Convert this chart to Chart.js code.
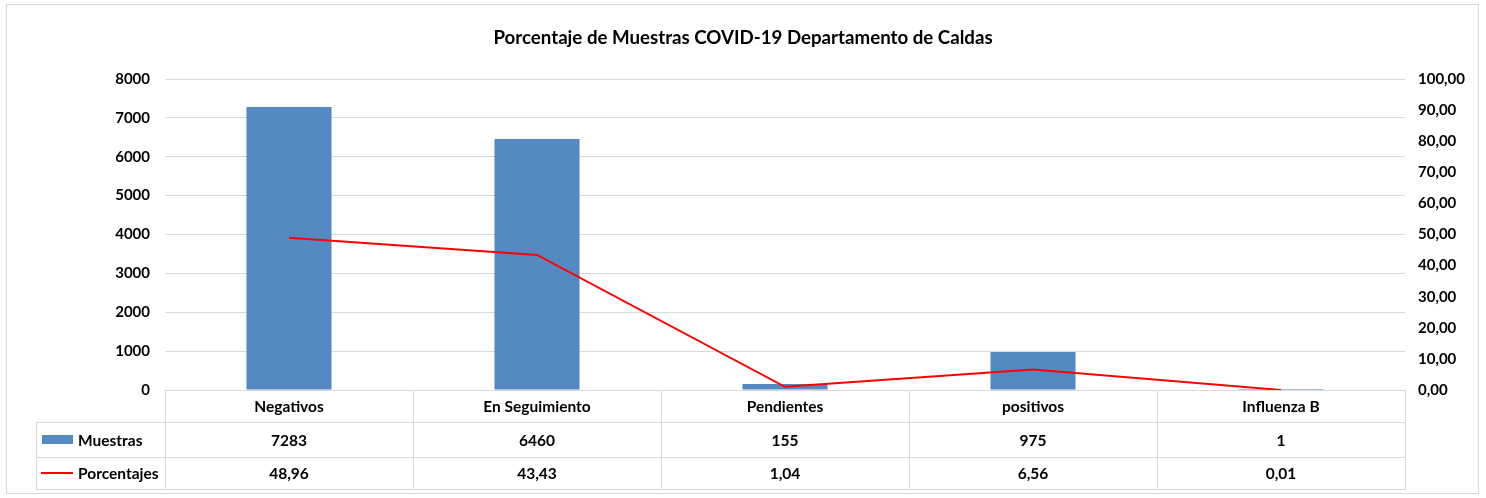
<!DOCTYPE html>
<html>
<head>
<meta charset="utf-8">
<script src="https://cdn.jsdelivr.net/npm/chart.js@4.4.1/dist/chart.umd.min.js"></script>
<style>
html,body{margin:0;padding:0;background:#fff;}
#wrap{width:1486px;height:498px;position:relative;}
</style>
</head>
<body>
<div id="wrap"><canvas id="c" width="1486" height="498"></canvas></div>
<script>
const categories = ["Negativos", "En Seguimiento", "Pendientes", "positivos", "Influenza B"];
const muestras = [7283, 6460, 155, 975, 1];
const porcentajes = [48.96, 43.43, 1.04, 6.56, 0.01];
const leftTicks = [0, 1000, 2000, 3000, 4000, 5000, 6000, 7000, 8000];
const rightTicks = [0, 10, 20, 30, 40, 50, 60, 70, 80, 90, 100];

const FONT = "Lato, 'Open Sans', 'DejaVu Sans', sans-serif";
const GRID = '#d9d9d9';
const BAR = '#5489C2';
const RED = '#FF0000';
const fmt2 = v => v.toFixed(2).replace('.', ',');

const tablePlugin = {
  id: 'dataTable',
  beforeDraw(chart) {
    const ctx = chart.ctx;
    ctx.save();
    ctx.fillStyle = '#fff';
    ctx.fillRect(0, 0, chart.width, chart.height);
    ctx.strokeStyle = '#d9d9d9';
    ctx.lineWidth = 1;
    ctx.strokeRect(6.5, 4.5, 1472, 489);
    ctx.restore();
  },
  afterDraw(chart) {
    const ctx = chart.ctx;
    const x = chart.scales.x;
    const area = chart.chartArea;
    const n = categories.length;
    const step = (area.right - area.left) / n;
    const top = Math.round(area.bottom);
    const r1 = top + 32, r2 = top + 67, bot = top + 99;
    const leftT = 36;
    ctx.save();
    ctx.strokeStyle = GRID;
    ctx.lineWidth = 1;
    ctx.beginPath();
    ctx.moveTo(area.left, top + 0.5); ctx.lineTo(area.right, top + 0.5);
    [r1, r2, bot].forEach(y => { ctx.moveTo(leftT, y + 0.5); ctx.lineTo(area.right, y + 0.5); });
    for (let i = 0; i <= n; i++) {
      const xx = Math.round(area.left + i * step) + 0.5;
      ctx.moveTo(xx, top); ctx.lineTo(xx, bot + 1);
    }
    ctx.moveTo(leftT + 0.5, r1); ctx.lineTo(leftT + 0.5, bot + 1);
    ctx.stroke();

    ctx.fillStyle = '#000';
    ctx.font = 'bold 15.5px ' + FONT;
    ctx.textAlign = 'center';
    ctx.textBaseline = 'middle';
    categories.forEach((c, i) => {
      const cx = x.getPixelForValue(i);
      ctx.fillText(c, cx, (top + r1) / 2 + 1);
      ctx.fillText(String(muestras[i]), cx, (r1 + r2) / 2 + 1);
      ctx.fillText(fmt2(porcentajes[i]), cx, (r2 + bot) / 2 + 1);
    });
    const barDs = chart.data.datasets.find(d => d.type === 'bar');
    const lineDs = chart.data.datasets.find(d => d.type === 'line');
    ctx.fillStyle = BAR;
    ctx.fillRect(42, 435, 31, 9);
    ctx.strokeStyle = RED;
    ctx.lineWidth = 2;
    ctx.beginPath();
    ctx.moveTo(41, 473); ctx.lineTo(73, 473);
    ctx.stroke();
    ctx.fillStyle = '#000';
    ctx.textAlign = 'left';
    ctx.fillText(barDs.label, 78, (r1 + r2) / 2 + 1);
    ctx.fillText(lineDs.label, 78, (r2 + bot) / 2 + 1);
    ctx.restore();
  }
};

new Chart(document.getElementById('c'), {
  data: {
    labels: categories,
    datasets: [
      {
        type: 'line',
        label: 'Porcentajes',
        data: porcentajes,
        yAxisID: 'y1',
        borderColor: RED,
        backgroundColor: RED,
        borderWidth: 2,
        pointRadius: 0,
        tension: 0,
        order: 0
      },
      {
        type: 'bar',
        label: 'Muestras',
        data: muestras,
        yAxisID: 'y',
        backgroundColor: BAR,
        borderWidth: 0,
        barPercentage: 0.343,
        categoryPercentage: 1,
        order: 1
      }
    ]
  },
  options: {
    responsive: false,
    animation: false,
    devicePixelRatio: 1,
    layout: { padding: { left: 0, right: 0, top: 0, bottom: 108 } },
    plugins: {
      legend: { display: false },
      tooltip: { enabled: false },
      title: {
        display: true,
        text: 'Porcentaje de Muestras COVID-19 Departamento de Caldas',
        color: '#000',
        font: { family: FONT, size: 18.7, weight: 'bold' },
        padding: { top: 26.5, bottom: 30.1 }
      }
    },
    scales: {
      x: {
        display: false,
        offset: true,
        grid: { display: false }
      },
      y: {
        position: 'left',
        min: 0, max: 8000,
        afterFit(s) { s.width = 165; },
        afterBuildTicks(s) { s.ticks = leftTicks.map(v => ({ value: v })); },
        ticks: {
          padding: 15,
          color: '#000',
          font: { family: FONT, size: 15, weight: 'bold' },
          callback: v => String(v)
        },
        grid: { color: GRID, drawTicks: false, lineWidth: 1 },
        border: { display: false }
      },
      y1: {
        position: 'right',
        min: 0, max: 100,
        afterFit(s) { s.width = 81; },
        afterBuildTicks(s) { s.ticks = rightTicks.map(v => ({ value: v })); },
        ticks: {
          padding: 13,
          color: '#000',
          font: { family: FONT, size: 15, weight: 'bold' },
          callback: v => fmt2(v)
        },
        grid: { display: false, drawTicks: false },
        border: { display: false }
      }
    }
  },
  plugins: [tablePlugin]
});
</script>
</body>
</html>
